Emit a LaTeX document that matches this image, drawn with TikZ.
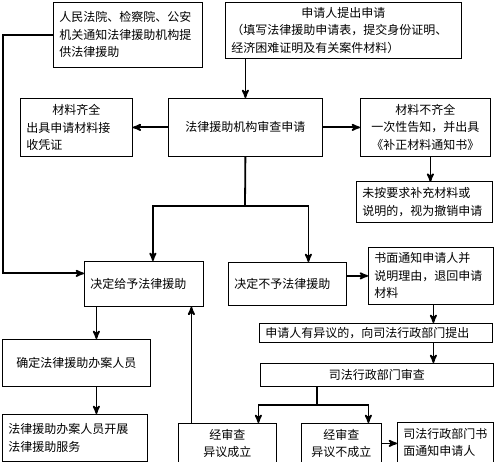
\documentclass[tikz,border=0pt]{standalone}
\usepackage{fontspec}
\setmainfont{Noto Sans CJK SC}
\usetikzlibrary{arrows,shadows,calc,positioning}

\newcommand{\ctrline}[1]{\hspace*{\fill}#1\hspace*{\fill}\null}

\begin{document}
\begin{tikzpicture}[>=stealth', x=1pt, y=-1pt,
    box/.style={draw, fill=white, line width=0.8pt, anchor=north west,
      inner xsep=6pt, inner ysep=1pt, align=left,
      font=\fontsize{12}{17.5}\selectfont,
      drop shadow={shadow xshift=0.8pt, shadow yshift=-0.8pt, opacity=1, fill=black}},
    link/.style={line width=1.8pt}]
  \useasboundingbox (0,0) rectangle (501,462);

  \node [box, text width=137pt, minimum height=65pt] (courts) at (53,2)
    {人民法院、检察院、公安\\机关通知法律援助机构提\\供法律援助};
  \node [box, text width=224pt, minimum height=56pt] (apply) at (225,2)
    {\ctrline{申请人提出申请}\\（填写法律援助申请表，提交身份证明、\\经济困难证明及有关案件材料）};
  \node [box, text width=100pt, minimum height=58pt] (matok) at (20,98)
    {\ctrline{材料齐全}\\出具申请材料接\\收凭证};
  \node [box, text width=142pt, minimum height=58pt, align=center] (review) at (168,98)
    {法律援助机构审查申请\\[4pt]};
  \node [box, text width=118pt, minimum height=58pt, align=center] (matno) at (360,98)
    {材料不齐全\\一次性告知，并出具\\《补正材料通知书》};
  \node [box, text width=124pt, minimum height=41pt] (withdraw) at (356,181)
    {未按要求补充材料或\\说明的，视为撤销申请};
  \node [box, text width=107pt, minimum height=45pt] (grant) at (84,261) {决定给予法律援助};
  \node [box, text width=106pt, minimum height=43pt] (deny) at (228,262) {决定不予法律援助};
  \node [box, text width=113pt, minimum height=57pt] (notify) at (368,247)
    {书面通知申请人并\\说明理由，退回申请\\材料};
  \node [box, text width=221pt, minimum height=19pt] (object) at (259,323)
    {申请人有异议的，向司法行政部门提出};
  \node [box, text width=221pt, minimum height=23pt, align=center] (adminrev) at (260,363)
    {司法行政部门审查};
  \node [box, text width=136pt, minimum height=47pt, align=center] (assign) at (2,339)
    {确定法律援助办案人员};
  \node [box, text width=133pt, minimum height=47pt] (serve) at (2,414)
    {法律援助办案人员开展\\法律援助服务};
  \node [box, text width=86pt, minimum height=40pt, align=center] (upheld) at (178,423)
    {经审查\\异议成立};
  \node [box, text width=68pt, minimum height=40pt, align=center] (rejected) at (301,423)
    {经审查\\异议不成立};
  \node [box, text width=84pt, minimum height=40pt] (letter) at (397,422)
    {司法行政部门书\\面通知申请人};

  % branch points
  \coordinate (split) at (245,206);
  \coordinate (fork) at (317,405);
  \coordinate (n-out) at ([xshift=2.5pt]notify.south);
  \coordinate (u-out) at ([xshift=-36pt]upheld.north);
  \coordinate (g-out) at ([xshift=-47.5pt]grant.south);

  \draw [link,->] (courts.west) -- ++(-50,0) |- ([yshift=10.5pt]grant.west);
  \draw [link,->] (apply.south -| review.north) -- (review.north);
  \draw [link,->] (review.west) -- (matok.east);
  \draw [link,->] (review.east) -- (matno.west);
  \draw [link,->] ([xshift=5pt]matno.south) -- ++(0,25);
  \draw [link] (review.south) -- (split);
  \draw [link,->] (split) -| ([xshift=9pt]grant.north);
  \draw [link,->] (split) -| ([xshift=21pt]deny.north);
  \draw [link,->] (deny.east |- notify.west) -- (notify.west);
  \draw [link,->] (n-out) -- (n-out |- object.north);
  \draw [link,->] (n-out |- object.south) -- (n-out |- adminrev.north);
  \draw [link] (fork |- adminrev.south) -- (fork);
  \draw [link,->] (fork) -| ([xshift=31pt]upheld.north);
  \draw [link,->] (fork) -| ([xshift=27pt]rejected.north);
  \draw [link,->] (rejected.east) -- (rejected.east -| letter.west);
  \draw [link,->] (u-out) -- (u-out |- grant.south);
  \draw [link,->] (g-out) -- (g-out |- assign.north);
  \draw [link,->] (g-out |- assign.south) -- (g-out |- serve.north);
\end{tikzpicture}
\end{document}
